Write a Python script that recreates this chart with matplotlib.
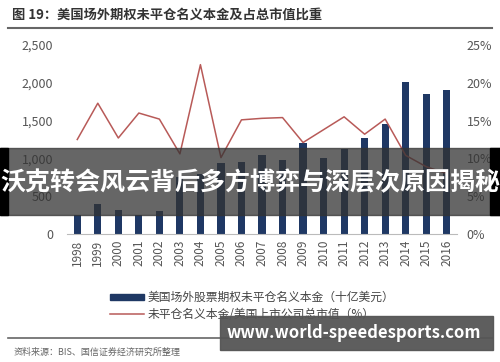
import matplotlib
matplotlib.use("Agg")
import matplotlib.pyplot as plt
from matplotlib.patches import Rectangle
from matplotlib.lines import Line2D
from matplotlib.ticker import FuncFormatter

plt.rcParams['font.family'] = ['Noto Sans CJK SC', 'DejaVu Sans']

# 数据
years = [str(y) for y in range(1998, 2017)]
notional = [250, 400, 320, 250, 300, 750, 800, 935, 957, 1045, 979, 1208,
            1009, 1124, 1265, 1455, 2015, 1848, 1905]
ratio = [12.5, 17.3, 12.7, 16.0, 15.2, 10.6, 22.4, 10.1, 15.1, 15.3, 15.4,
         12.1, 13.8, 15.5, 13.2, 15.2, 10.4, 8.9, 8.0]

title = "图 19：美国场外期权未平仓名义本金及占总市值比重"
bar_label = "美国场外股票期权未平仓名义本金（十亿美元）"
line_label = "未平仓名义本金/美国上市公司总市值（%）"
source = "资料来源：BIS、国信证券经济研究所整理"
banner = "沃克转会风云背后多方博弈与深层次原因揭秘"
watermark = "www.world-speedesports.com"

bar_c = "#1F3864"
line_c = "#B85A58"
gray = "#555555"

fig = plt.figure(figsize=(5, 3.62), dpi=100)
W, H = 500, 362

ax = fig.add_axes([67 / W, 1 - 234 / H, 390 / W, 189 / H])
x = range(len(years))
ax.bar(x, notional, width=0.35, color=bar_c, zorder=2)
ax.set_xlim(-0.5, len(years) - 0.5)
ax.set_ylim(0, 2500)
ax.set_yticks(range(0, 2501, 500))
ax.yaxis.set_major_formatter(FuncFormatter(lambda v, p: f"{int(v):,}"))
ax.set_xticks(list(x))
ax.set_xticklabels(years, rotation=90)
for s in ["top", "left", "right"]:
    ax.spines[s].set_visible(False)
ax.spines["bottom"].set_color("#bbbbbb")
ax.tick_params(axis="y", length=0, colors=gray, labelsize=9, pad=10)
ax.tick_params(axis="x", length=0, colors=gray, labelsize=8.5, pad=4)

ax2 = ax.twinx()
ax2.plot(x, ratio, color=line_c, lw=1.1, zorder=3)
ax2.set_ylim(0, 25)
ax2.set_yticks(range(0, 26, 5))
ax2.set_yticklabels([f"{v}%" for v in range(0, 26, 5)])
for s in ["top", "left", "right", "bottom"]:
    ax2.spines[s].set_visible(False)
ax2.tick_params(axis="y", length=0, colors=gray, labelsize=9, pad=7)

# 标题与分隔线
fig.text(12 / W, 1 - 15 / H, title, fontsize=9.5, fontweight="bold",
         color="#333333", va="center", ha="left")
fig.add_artist(Line2D([8 / W, 492 / W], [1 - 28 / H] * 2, color="#666666", lw=1.5))

# 图例
fig.add_artist(Rectangle((110 / W, 1 - 300 / H), 34 / W, 6 / H, color=bar_c,
                         transform=fig.transFigure))
fig.text(148 / W, 1 - 297 / H, bar_label, fontsize=8.5, color="#444444", va="center")
fig.add_artist(Line2D([110 / W, 144 / W], [1 - 314 / H] * 2, color=line_c, lw=1.1))
fig.text(148 / W, 1 - 314 / H, line_label, fontsize=8.5, color="#444444", va="center")

# 底部来源
fig.add_artist(Line2D([8 / W, 492 / W], [1 - 338 / H] * 2, color="#666666", lw=1.2))
fig.text(14 / W, 1 - 352 / H, source, fontsize=6.5, color="#666666", va="center")

# 叠加横幅与水印
fig.add_artist(Rectangle((0, 1 - 215 / H), 1, 67 / H, color="#333333", alpha=0.75,
                         transform=fig.transFigure, zorder=10))
fig.add_artist(Rectangle((0, 1 - 215 / H), 8 / W, 67 / H, color="black",
                         transform=fig.transFigure, zorder=10))
fig.add_artist(Rectangle((490 / W, 1 - 215 / H), 10 / W, 67 / H, color="black",
                         transform=fig.transFigure, zorder=10))
fig.text(0.5, 1 - 183 / H, banner, fontsize=18, fontweight="bold", color="white",
         ha="center", va="center", zorder=11)
fig.add_artist(Rectangle((220 / W, 1 - 350 / H), 273 / W, 34 / H, color="#555555",
                         alpha=0.95, transform=fig.transFigure, zorder=10))
fig.text(354 / W, 1 - 333 / H, watermark, fontsize=12, fontweight="bold", color="white",
         ha="center", va="center", zorder=11)

fig.savefig("out.png", dpi=100)
